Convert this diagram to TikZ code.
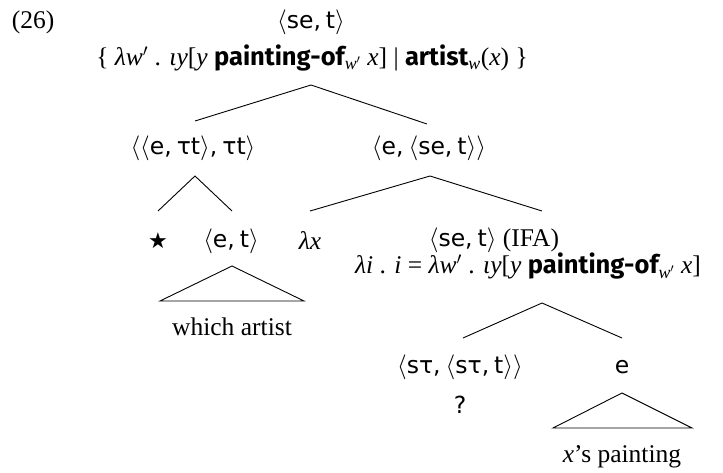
\documentclass[tikz,border=0pt]{standalone}
\usepackage{fontspec}
\setmainfont{Liberation Serif}
\newfontfamily\typfont{DejaVu Sans}
\newfontfamily\boldsans{Fira Sans}
\newcommand\ty[1]{{\typfont\fontsize{23.5}{26}\selectfont #1}}
\newcommand\lA{\ensuremath{\langle}}
\newcommand\rA{\ensuremath{\rangle}}
\newcommand\cm{,\hspace{5pt}}
\newcommand\bs[1]{{\boldsans\bfseries #1}}
\newcommand\subs[1]{\textsubscript{\itshape #1}}
\newcommand\wprm{\textit{w}\ensuremath{'}}
\begin{document}
\begin{tikzpicture}[x=1pt,y=-1pt,
  lbl/.style={inner sep=0pt, font=\fontsize{25.5}{28}\selectfont},
  ln/.style={line width=0.9pt}]
\useasboundingbox (0,0) rectangle (723,473);
% labels
\node[lbl] (n26) at (33,22) {(26)};
\node[lbl] (root) at (311,22) {\ty{\lA se\cm t\rA}};
\node[lbl] (rootsem) at (312,58) {\{ \textit{λ}\wprm\ . \textit{ιy}[\textit{y} \bs{painting-of}\subs{w$'$} \textit{x}] | \bs{artist}\subs{w}(\textit{x}) \}};
\node[lbl] (L) at (193,148) {\ty{\lA\lA e\cm τt\rA\cm τt\rA}};
\node[lbl] (R) at (429,148) {\ty{\lA e\cm \lA se\cm t\rA\rA}};
\node[lbl] (star) at (158,241) {{\typfont\fontsize{22}{24}\selectfont ★}};
\node[lbl] (et) at (231,241) {\ty{\lA e\cm t\rA}};
\node[lbl] (lx) at (310,241) {\textit{λx}};
\node[lbl, align=center, font=\fontsize{25.5}{27}\selectfont] (ifa) at (528,254)
  {\ty{\lA se\cm t\rA} (IFA)\hspace*{68pt}\\ \textit{λi} . \textit{i} = \textit{λ}\wprm\ . \textit{ιy}[\textit{y} \bs{painting-of}\subs{w$'$} \textit{x}]};
\node[lbl] (st) at (460,367) {\ty{\lA sτ\cm \lA sτ\cm t\rA\rA}};
\node[lbl] (q) at (460,405) {\ty{?}};
\node[lbl] (e) at (622,367) {\ty{e}};
\node[lbl] (wa) at (232,327) {which artist};
\node[lbl] (xp) at (622,457) {\textit{x}’s painting};
% branch points
\coordinate (tA) at (311,85);
\coordinate (tL) at (195,121);
\coordinate (tR) at (427,124);
\coordinate (lA) at (195,176);
\coordinate (lL) at (158,211);
\coordinate (lR) at (232,211);
\coordinate (rA) at (430,176);
\coordinate (rL) at (310,211);
\coordinate (rR) at (542,211);
\coordinate (iA) at (542,303);
\coordinate (iL) at (463,338);
\coordinate (iR) at (622,338);
\coordinate (waA) at (232,266);
\coordinate (waL) at (160,301);
\coordinate (waR) at (304,301);
\coordinate (eA) at (622,393);
\coordinate (eL) at (553,428);
\coordinate (eR) at (692,428);
% connectors
\draw[ln] (tL) -- (tA) -- (tR);
\draw[ln] (lL) -- (lA) -- (lR);
\draw[ln] (rL) -- (rA) -- (rR);
\draw[ln] (iL) -- (iA) -- (iR);
\draw[ln] (waA) -- (waL) -- (waR) -- cycle;
\draw[ln] (eA) -- (eL) -- (eR) -- cycle;
\end{tikzpicture}
\end{document}
